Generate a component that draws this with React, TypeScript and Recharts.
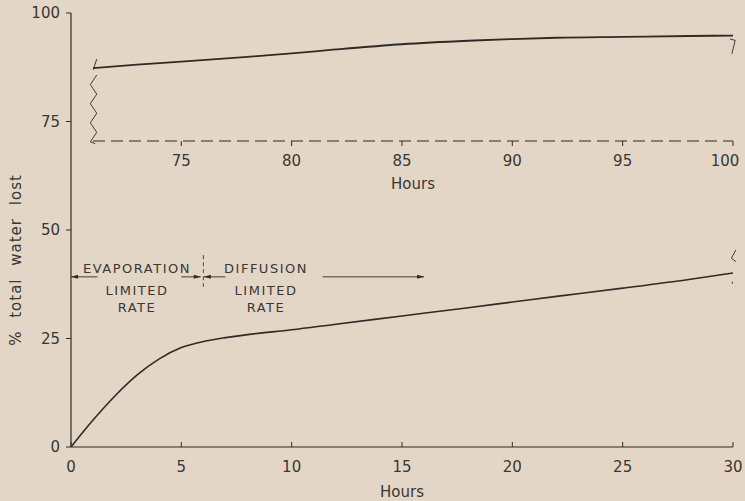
import React from "react"
import { LineChart, Line, XAxis, YAxis, ReferenceLine } from "recharts"

// main curve: % total water lost vs hours (0-30)
const mainHours = [0, 1, 2, 3, 4, 5, 6, 7, 8, 10, 12, 15, 18, 20, 22, 25, 28, 30]
const mainLost = [0, 6.2, 11.8, 16.6, 20.3, 22.9, 24.3, 25.2, 25.9, 27.0, 28.3, 30.2, 32.1, 33.4, 34.7, 36.6, 38.6, 40.1]

// inset curve: 71-100 hours
const insetHours = [71, 73, 75, 78, 80, 82, 85, 88, 90, 92, 95, 98, 100]
const insetLost = [87.3, 88.1, 88.8, 89.9, 90.7, 91.6, 92.8, 93.6, 94.0, 94.3, 94.5, 94.7, 94.8]

const mainTicksX = [0, 5, 10, 15, 20, 25, 30]
const mainTicksY = [0, 25, 50, 75, 100]
const insetTicksX = [75, 80, 85, 90, 95, 100]

const mainData = mainHours.map((h, i) => ({ h, v: mainLost[i] }))
const insetData = insetHours.map((h, i) => ({ h, v: insetLost[i] }))

const INK = "#2e2a26"
const TXT = "#3a3734"
const BG = "#e3d6c6"
const FONT = "'DejaVu Sans', sans-serif"

type Seg = [number, number, number, number]

// break marks (hand drawn squiggles), in data units
const insetZig: Seg[] = [
  [71.17, 89.4, 71.01, 86.9],
  [71.17, 85.7, 70.88, 83.5],
  [70.88, 83.5, 71.17, 81.3],
  [71.17, 81.3, 70.88, 79.1],
  [70.88, 79.1, 71.17, 76.9],
  [71.17, 76.9, 70.88, 74.7],
  [70.88, 74.7, 71.17, 72.5],
  [71.17, 72.5, 70.88, 70.3],
  [70.88, 70.3, 71.1, 69.9],
  [99.86, 94.0, 100.1, 93.7],
  [100.1, 93.7, 99.95, 90.6],
]
const mainBreak: Seg[] = [
  [30.13, 45.4, 29.93, 43.5],
  [29.93, 43.5, 30.13, 42.7],
  [29.97, 38.1, 29.97, 37.6],
]

// arrows along the rate annotations (from -> to, head at "to")
const ARROW_Y = 39.2
const arrows: [number, number][] = [
  [1.2, 0],
  [5.0, 5.88],
  [7.0, 6.02],
  [11.4, 16.0],
]

const Arrow = (p: any) => {
  const { x1, y1, x2, y2 } = p
  const dir = x2 > x1 ? 1 : -1
  return (
    <g>
      <line x1={x1} y1={y1} x2={x2} y2={y2} stroke={INK} strokeWidth={0.9} />
      <path d={`M${x2},${y2} L${x2 - dir * 7},${y2 - 2} L${x2 - dir * 7},${y2 + 2} Z`} fill={INK} />
    </g>
  )
}

const MainXTick = ({ x, y, payload }: any) => (
  <g>
    <line x1={x} y1={y} x2={x} y2={y - 5} stroke={INK} strokeWidth={1} />
    <text x={x} y={y + 25} textAnchor="middle" fill={TXT} fontSize={15} fontFamily={FONT}>
      {payload.value}
    </text>
  </g>
)

// inset ticks: last label pulled in a bit so it stays on the page
const InsetTick = ({ x, y, payload }: any) => (
  <text x={payload.value === 100 ? x - 8 : x} y={y} dy="0.71em" textAnchor="middle" fill={TXT} fontSize={15} fontFamily={FONT}>
    {payload.value}
  </text>
)

const tickStyle = { fill: TXT, fontSize: 15, fontFamily: FONT }

export default function App() {
  return (
    <div style={{ position: "fixed", left: 0, top: 0, width: 745, height: 501, background: BG }}>
      <div style={{ position: "absolute", left: 0, top: 0 }}>
        <LineChart width={745} height={501} data={mainData} margin={{ top: 13, right: 12, left: 0, bottom: 0 }}>
          <XAxis
            dataKey="h"
            type="number"
            domain={[0, 30]}
            ticks={mainTicksX}
            height={54}
            tickSize={0}
            tickMargin={0}
            tickLine={false}
            tick={<MainXTick />}
            axisLine={{ stroke: INK, strokeWidth: 1.2 }}
            allowDataOverflow
            label={{ value: "Hours", position: "insideBottom", offset: 4, fill: TXT, fontSize: 15, fontFamily: FONT }}
          />
          <YAxis
            type="number"
            domain={[0, 100]}
            ticks={mainTicksY}
            width={71}
            tickSize={5}
            tickMargin={6}
            tick={tickStyle}
            tickLine={{ stroke: INK }}
            axisLine={{ stroke: INK, strokeWidth: 1.2 }}
            allowDataOverflow
          />
          <Line dataKey="v" type="monotone" stroke={INK} strokeWidth={1.6} dot={false} isAnimationActive={false} />
          {mainBreak.map((s, i) => (
            <ReferenceLine key={`mb${i}`} segment={[{ x: s[0], y: s[1] }, { x: s[2], y: s[3] }]} stroke={INK} strokeWidth={0.9} ifOverflow="visible" />
          ))}
          {arrows.map((a, i) => (
            <ReferenceLine key={`ar${i}`} segment={[{ x: a[0], y: ARROW_Y }, { x: a[1], y: ARROW_Y }]} shape={Arrow} ifOverflow="visible" />
          ))}
          <ReferenceLine segment={[{ x: 6, y: 44.2 }, { x: 6, y: 36.9 }]} stroke={INK} strokeWidth={0.8} strokeDasharray="4 3" ifOverflow="visible" />
        </LineChart>
      </div>
      <div style={{ position: "absolute", left: 0, top: 0 }}>
        <LineChart width={745} height={200} data={insetData} margin={{ top: 13, right: 12, left: 93, bottom: 0 }}>
          <XAxis
            dataKey="h"
            type="number"
            domain={[71, 100]}
            ticks={insetTicksX}
            height={59}
            tickSize={5}
            tickMargin={9}
            tick={<InsetTick />}
            tickLine={{ stroke: INK }}
            axisLine={{ stroke: INK, strokeWidth: 1, strokeDasharray: "12 6" }}
            allowDataOverflow
            label={{ value: "Hours", position: "insideBottom", offset: 11, fill: TXT, fontSize: 15, fontFamily: FONT }}
          />
          <YAxis hide type="number" domain={[70.5, 100]} allowDataOverflow />
          <Line dataKey="v" type="monotone" stroke={INK} strokeWidth={1.8} dot={false} isAnimationActive={false} />
          {insetZig.map((s, i) => (
            <ReferenceLine key={`iz${i}`} segment={[{ x: s[0], y: s[1] }, { x: s[2], y: s[3] }]} stroke={INK} strokeWidth={0.9} ifOverflow="visible" />
          ))}
        </LineChart>
      </div>
      <svg width={745} height={501} style={{ position: "absolute", left: 0, top: 0, pointerEvents: "none" }}>
        <g fill={TXT} fontFamily={FONT} textAnchor="middle">
          <text transform="translate(16,260) rotate(-90)" fontSize={15} letterSpacing={1} wordSpacing={7} dominantBaseline="central">
            % total water lost
          </text>
          <text x={137} y={273} fontSize={13} letterSpacing={1.5}>EVAPORATION</text>
          <text x={137} y={295} fontSize={13} letterSpacing={1.5}>LIMITED</text>
          <text x={137} y={312} fontSize={13} letterSpacing={1.5}>RATE</text>
          <text x={266} y={273} fontSize={13} letterSpacing={1.5}>DIFFUSION</text>
          <text x={266} y={295} fontSize={13} letterSpacing={1.5}>LIMITED</text>
          <text x={266} y={312} fontSize={13} letterSpacing={1.5}>RATE</text>
        </g>
      </svg>
    </div>
  )
}
